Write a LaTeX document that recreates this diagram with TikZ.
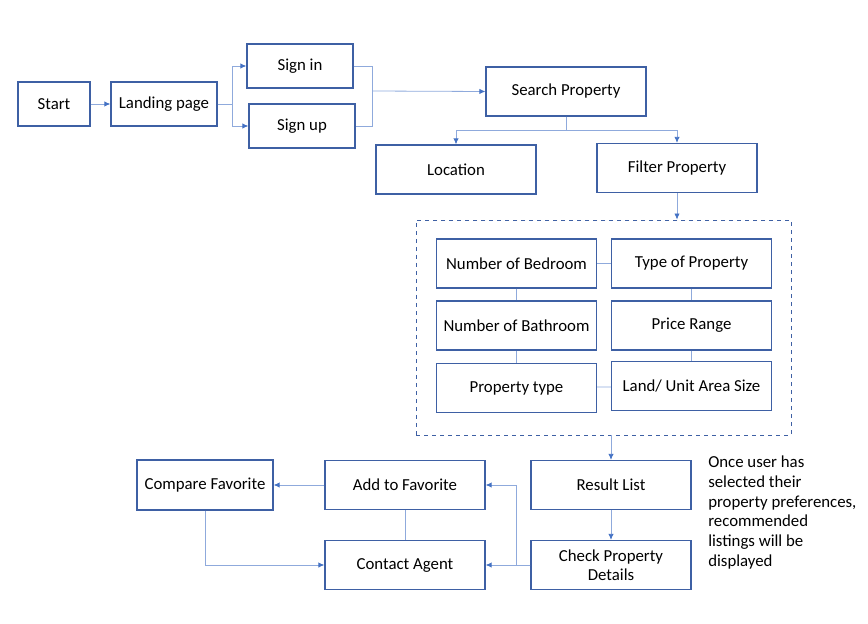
\documentclass[tikz,border=0pt]{standalone}
\usepackage{fontspec}
\setmainfont{Carlito}
\usepackage{xcolor}
\usepackage{tikz}
\usetikzlibrary{arrows.meta,shapes}
\definecolor{bord}{RGB}{62,96,164}
\definecolor{lien}{RGB}{68,114,196}
\definecolor{lienclair}{RGB}{143,170,220}

\begin{document}
\begin{tikzpicture}[x=0.75pt,y=-0.75pt]
        \tikzset{boite/.style={draw=bord,line width=0.9pt,minimum width=120pt,minimum height=36.75pt,inner sep=2pt,font=\fontsize{12.6}{14.6}\selectfont},
                 fleche/.style={-{Latex[length=4.5pt,width=4pt,color=lien]},draw=lienclair,line width=0.6pt},
                 trait/.style={draw=lienclair,line width=0.6pt}}
        \useasboundingbox (0,0) rectangle (868,624);
        \node[boite,minimum width=54pt,minimum height=33pt] (S) at (54,104) {Start};
        \node[boite,minimum width=79.5pt,minimum height=33pt] (LP) at (164,104) {Landing page};
        \node[boite,minimum width=79.5pt,minimum height=33pt] (SI) at (300,66) {Sign in};
        \node[boite,minimum width=79.5pt,minimum height=33pt] (SU) at (302,126) {Sign up};
        \node[boite] (SP) at (566,91.5) {Search Property};
        \node[boite] (L) at (456,169.5) {Location};
        \node[boite] (FP) at (677,168) {Filter Property};
        \node[draw=bord,dashed,line width=0.6pt,minimum width=281.25pt,minimum height=161.25pt] (G) at (603.5,327.5) {};
        \node[boite] (NB) at (516.5,263.5) {Number of Bedroom};
        \node[boite] (TP) at (691.5,263.5) {Type of Property};
        \node[boite] (NBa) at (516.5,325.5) {Number of Bathroom};
        \node[boite] (PR) at (691.5,325.5) {Price Range};
        \node[boite] (PT) at (516.5,388) {Property type};
        \node[boite] (LA) at (691.5,386) {Land/ Unit Area Size};
        \node[boite] (RL) at (611,485) {Result List};
        \node[boite,align=center] (CP) at (611,565) {Check Property\\Details};
        \node[boite] (AF) at (405,485) {Add to Favorite};
        \node[boite] (CA) at (405,565) {Contact Agent};
        \node[boite,minimum width=102pt,minimum height=37.5pt] (CF) at (205,485) {Compare Favorite};
        \node[anchor=west,align=left,inner sep=0pt,font=\fontsize{12.6}{14.85}\selectfont] (N) at (708,512.5)
             {Once user has\\selected their\\property preferences,\\recommended\\listings will be\\displayed};
        \coordinate (J) at (372,91);
        \draw[fleche] (S) -- (LP);
        \draw[fleche] (LP.east) -- ++(15,0) |- (SI.west);
        \draw[fleche] (LP.east) -- ++(15,0) |- (SU.west);
        \draw[trait] (SI.east) -- ++(19,0) |- (SU.east);
        \draw[fleche] (J) -- (SP.west);
        \draw[fleche] (SP.south) -- ++(0,14) -| (L);
        \draw[fleche] (SP.south) -- ++(0,14) -| (FP);
        \draw[fleche] (FP.south) -- (FP.south |- G.north);
        \draw[trait] (NB) -- (TP);
        \draw[trait] (NB) -- (NBa);
        \draw[trait] (NBa) -- (PT);
        \draw[trait] (TP) -- (PR);
        \draw[trait] (PR) -- (LA);
        \draw[trait] (PT) -- (LA);
        \draw[fleche] (G.south -| RL.north) -- (RL);
        \draw[fleche] (RL) -- (CP);
        \draw[fleche] (CP) -- (CA);
        \draw[fleche] (CP.west) -- ++(-14,0) |- (AF.east);
        \draw[fleche] (AF) -- (CF);
        \draw[trait] (AF) -- (CA);
        \draw[fleche] (CF.south) |- (CA.west);
\end{tikzpicture}
\end{document}
